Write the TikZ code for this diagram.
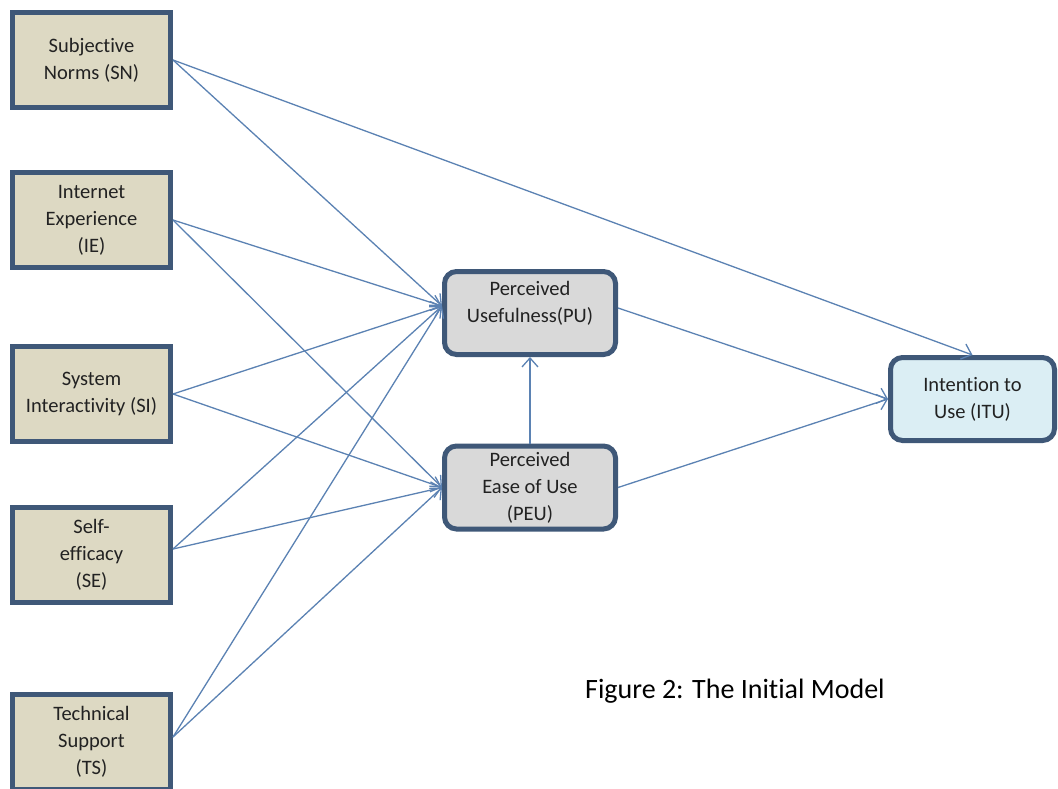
\documentclass[tikz,border=0pt]{standalone}
\usepackage{fontspec}
\setmainfont{Carlito}[Ligatures=NoCommon]
\usetikzlibrary{arrows.meta}
\definecolor{tanfill}{HTML}{DDD9C3}
\definecolor{boxline}{HTML}{3F5878}
\definecolor{grayfill}{HTML}{D9D9D9}
\definecolor{bluefill}{HTML}{DBEEF4}
\definecolor{arrowcol}{HTML}{5B82B3}
\definecolor{textcol}{HTML}{222222}
\begin{document}
\begin{tikzpicture}[x=1pt,y=-1pt,
  boxtext/.style={align=center, text=textcol, inner sep=0pt, font=\fontsize{20.5}{27}\selectfont},
  leftbox/.style={boxtext, draw=boxline, line width=5pt, fill=tanfill, minimum width=158pt, minimum height=95pt},
  midbox/.style={boxtext, draw=boxline, line width=5pt, fill=grayfill, rounded corners=12pt, minimum width=171pt, minimum height=83pt},
  endbox/.style={boxtext, draw=boxline, line width=5pt, fill=bluefill, rounded corners=12pt, minimum width=164pt, minimum height=83pt},
  link/.style={draw=arrowcol, line width=1.3pt, -{Straight Barb[length=9pt,width=16pt]}},
  caption/.style={text=black, inner sep=0pt, font=\fontsize{28}{32}\selectfont}]
\useasboundingbox (0,0) rectangle (1058,789);
\fill[white] (0,0) rectangle (1058,789);
\clip (0,0) rectangle (1058,789);

\node[leftbox] (SN) at (91.5,60) {Subjective\\Norms (SN)};
\node[leftbox] (IE) at (91.5,220) {Internet\\Experience\\(IE)};
\node[leftbox] (SI) at (91.5,394) {System\\Interactivity (SI)};
\node[leftbox] (SE) at (91.5,555) {Self-\\efficacy\\(SE)};
\node[leftbox] (TS) at (91.5,742) {Technical\\Support\\(TS)};

\node[midbox] (PU) at (530,313) {Perceived\\Usefulness(PU)\\[-5pt]};
\node[midbox] (PEU) at (530,487.5) {Perceived\\Ease of Use\\(PEU)};
\node[endbox] (ITU) at (972.5,399) {Intention to\\Use (ITU)};

\coordinate (PUin) at ([yshift=7pt]PU.west);

\draw[link] (SN.east) -- (PUin);
\draw[link] (SN.east) -- (ITU.north);
\draw[link] (IE.east) -- (PUin);
\draw[link] (IE.east) -- (PEU.west);
\draw[link] (SI.east) -- (PUin);
\draw[link] (SI.east) -- (PEU.west);
\draw[link] ([yshift=6pt]SE.east) -- (PUin);
\draw[link] ([yshift=6pt]SE.east) -- (PEU.west);
\draw[link] ([yshift=5pt]TS.east) -- (PUin);
\draw[link] ([yshift=5pt]TS.east) -- (PEU.west);
\draw[link] (PEU.north) -- (PU.south);
\draw[link] ([yshift=5pt]PU.east) -- (ITU.west);
\draw[link] (PEU.east) -- (ITU.west);

\node[caption, anchor=base west] (cap) at (585,698) {Figure 2: The Initial Model};
\end{tikzpicture}
\end{document}
